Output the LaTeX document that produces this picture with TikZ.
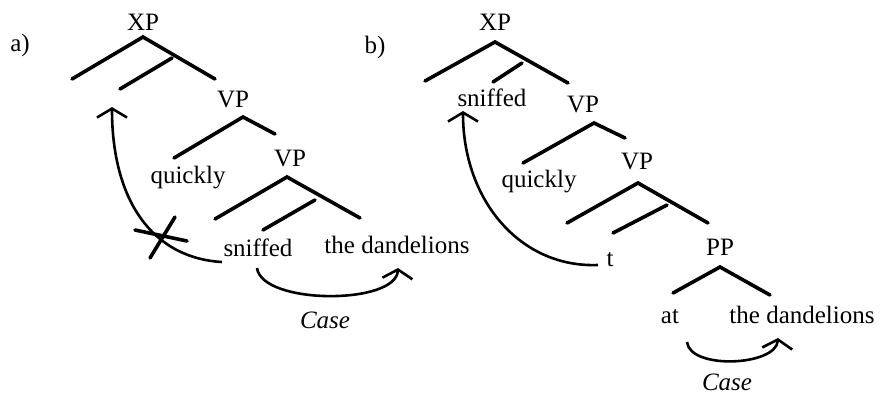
\documentclass[tikz,border=0pt]{standalone}
\usepackage{fontspec}
\setmainfont{Liberation Serif}
\usetikzlibrary{arrows.meta,calc}

\tikzset{
  word/.style={inner sep=0pt, font=\fontsize{25}{30}\selectfont},
  branch/.style={line width=3.6pt, line cap=round},
  move/.style={line width=2.6pt, -{Straight Barb[length=9pt,width=30pt]}},
}

\begin{document}
\begin{tikzpicture}[x=1pt,y=-1pt]
            \useasboundingbox (0,0) rectangle (881,394);
            % panel a
            \node[word] (la) at (20,45) {a)};
            \node[word] (xpA) at (143,22) {XP};
            \node[word] (vpA) at (233,100) {VP};
            \node[word] (vpAA) at (290,159) {VP};
            \node[word] (quicklyA) at (188,178) {quickly};
            \node[word] (sniffedA) at (258,248) {sniffed};
            \node[word] (dandA) at (397,245) {the dandelions};
            \node[word] (caseA) at (325,320) {\textit{Case}};
            \coordinate (xpAt) at (143,37);
            \coordinate (vpAt) at (243,117);
            \coordinate (vpAAt) at (287,177);
            \draw[branch] (72,79) -- (xpAt) -- (215,79);
            \draw[branch] (172,58) -- (120,89);
            \draw[branch] (174,158) -- (vpAt) -- (275,134);
            \draw[branch] (215,219) -- (vpAAt) -- (360,218);
            \draw[branch] (315,200) -- (263,230);
            % movement blocked
            \draw[move] (222,262) .. controls (152,258) and (112,200) .. (112,107);
            \coordinate (blk) at (162,236);
            \draw[branch] ($(blk)+(-27,-6)$) -- ($(blk)+(25,5)$);
            \draw[branch] ($(blk)+(-12,22)$) -- ($(blk)+(13,-19)$);
            \draw[move] (257,268) .. controls (262,305) and (396,305) .. (398,268);
            % panel b
            \node[word] (lb) at (375,47) {b)};
            \node[word] (xpB) at (495,22) {XP};
            \node[word] (sniffedB) at (492,98) {sniffed};
            \node[word] (vpB) at (583,105) {VP};
            \node[word] (quicklyB) at (539,182) {quickly};
            \node[word] (vpBB) at (637,162) {VP};
            \node[word] (tB) at (610,260) {t};
            \node[word] (ppB) at (720,247) {PP};
            \node[word] (atB) at (670,317) {at};
            \node[word] (dandB) at (802,315) {the dandelions};
            \node[word] (caseB) at (727,382) {\textit{Case}};
            \coordinate (xpBt) at (495,42);
            \coordinate (vpBt) at (594,123);
            \coordinate (vpBBt) at (638,183);
            \coordinate (ppBt) at (720,267);
            \draw[branch] (425,81) -- (xpBt) -- (568,83);
            \draw[branch] (522,63) -- (493,82);
            \draw[branch] (523,163) -- (vpBt) -- (625,138);
            \draw[branch] (567,223) -- (vpBBt) -- (708,223);
            \draw[branch] (667,205) -- (613,233);
            \draw[branch] (673,293) -- (ppBt) -- (770,295);
            \draw[move] (598,265) .. controls (520,268) and (463,200) .. (463,111);
            \draw[move] (687,342) .. controls (690,370) and (776,366) .. (778,338);
\end{tikzpicture}
\end{document}
